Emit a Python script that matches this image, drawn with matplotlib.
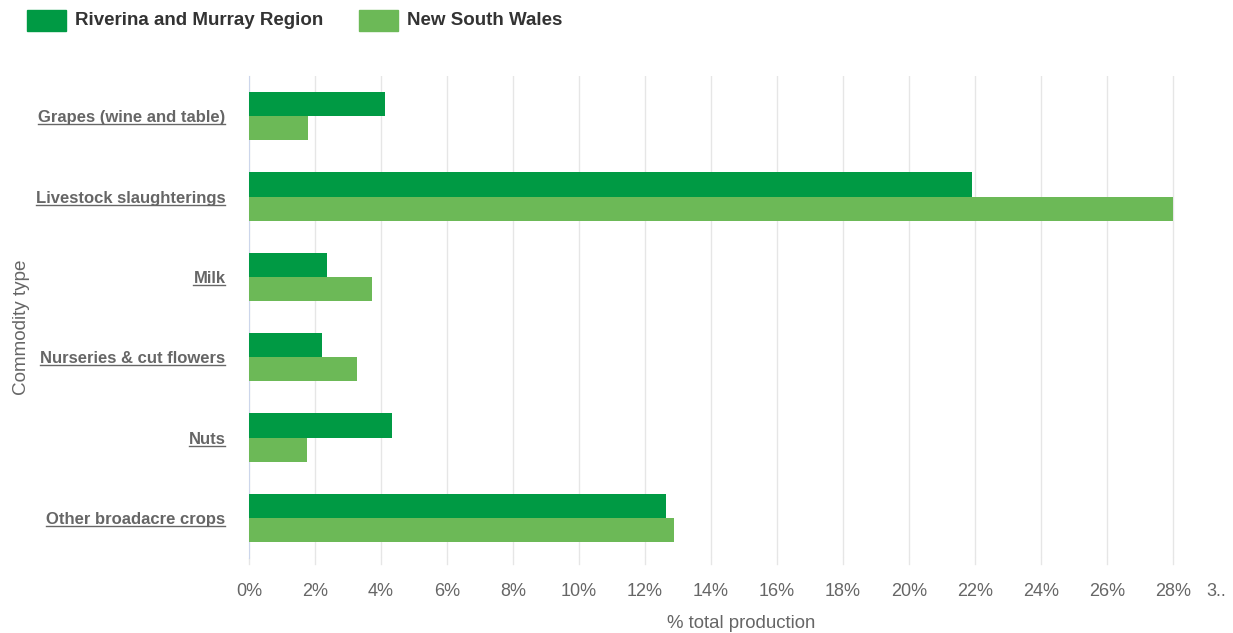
import numpy as np
import matplotlib.pyplot as plt
from matplotlib.patches import Rectangle
from matplotlib.lines import Line2D

plt.rcParams['font.family'] = ['Liberation Sans', 'DejaVu Sans']

# data
categories = ["Grapes (wine and table)", "Livestock slaughterings", "Milk",
              "Nurseries & cut flowers", "Nuts", "Other broadacre crops"]
riverina = [4.12, 21.9, 2.36, 2.21, 4.33, 12.64]
nsw = [1.79, 28.0, 3.73, 3.27, 1.76, 12.88]
series_names = ["Riverina and Murray Region", "New South Wales"]
xticks = list(range(0, 30, 2))

dark_green = "#009a44"
light_green = "#6cb957"
grey = "#666666"

W, H = 1233, 633
fig = plt.figure(figsize=(W / 100, H / 100), dpi=100)
ax = fig.add_axes([249 / W, 1 - 558 / H, (1233 - 249) / W, (558 - 76) / H])

y = np.arange(len(categories))
bh = 0.3
ax.barh(y - bh / 2, riverina, height=bh, color=dark_green, zorder=3)
ax.barh(y + bh / 2, nsw, height=bh, color=light_green, zorder=3)

ax.set_ylim(len(categories) - 0.5, -0.5)
ax.set_xlim(0, 29.82)
ax.set_xticks(xticks)
ax.set_xticklabels([f"{t}%" for t in xticks], fontsize=13, color=grey)
# truncated last label
ax.set_xticks([29.3], minor=True)
ax.set_xticklabels(["3.."], minor=True, fontsize=13, color=grey)
ax.tick_params(axis="x", which="both", length=0, pad=18)
ax.grid(axis="x", which="major", color="#e6e6e6", linewidth=1, zorder=0)
ax.set_yticks(y)
ax.set_yticklabels(categories, fontsize=12, fontweight="bold", color=grey)
ax.tick_params(axis="y", length=0, pad=17)
for s in ["top", "right", "bottom"]:
    ax.spines[s].set_visible(False)
ax.spines["left"].set_color("#ccd6eb")

# small ticks below axis
for t in xticks:
    ax.plot([t, t], [0, -0.012], transform=ax.get_xaxis_transform(),
            color="#e6e6e6", lw=1, clip_on=False)

ax.set_xlabel("% total production", fontsize=13.4, color=grey, labelpad=11)
fig.text(22 / W, 1 - 327 / H, "Commodity type", rotation=90, fontsize=13.6,
         color=grey, ha="center", va="center")

# legend
for name, col, x0 in zip(series_names, [dark_green, light_green], [27, 359]):
    fig.patches.append(Rectangle((x0 / W, 1 - 31 / H), 39 / W, 21 / H,
                                 transform=fig.transFigure, color=col))
    fig.text((x0 + 48) / W, 1 - 20.5 / H, name, fontsize=13.5, fontweight="bold",
             color="#333333", va="center", ha="left")

# underline category labels
fig.canvas.draw()
r = fig.canvas.get_renderer()
for lab in ax.get_yticklabels():
    bb = lab.get_window_extent(r)
    yy = bb.y0 + 1
    fig.add_artist(Line2D([bb.x0 / W, bb.x1 / W], [yy / H, yy / H],
                          transform=fig.transFigure, color=grey, lw=1))

fig.savefig("out.png", dpi=100)
